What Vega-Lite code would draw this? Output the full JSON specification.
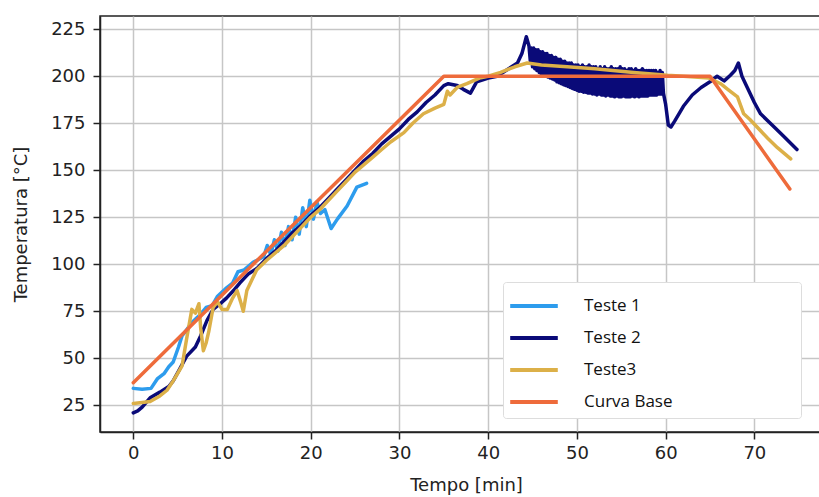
{
  "$schema": "https://vega.github.io/schema/vega-lite/v6.json",
  "width": 732,
  "height": 416,
  "autosize": {"type": "none"},
  "padding": {"left": 100, "top": 16, "right": 0, "bottom": 65},
  "background": "white",
  "config": {
    "view": {"stroke": "#222222", "strokeWidth": 1.5},
    "font": "DejaVu Sans",
    "axis": {
      "grid": true,
      "gridColor": "#c6c6c6",
      "gridWidth": 1.5,
      "domainColor": "#222222",
      "domainWidth": 1.5,
      "tickColor": "#222222",
      "tickWidth": 1.5,
      "tickSize": 7,
      "labelFont": "DejaVu Sans",
      "labelFontSize": 18,
      "labelColor": "#222222",
      "titleFont": "DejaVu Sans",
      "titleFontSize": 18,
      "titleFontWeight": "normal",
      "titleColor": "#222222"
    }
  },
  "data": {
    "values": [
      {"serie": "Teste 1", "t": 0, "T": 34},
      {"serie": "Teste 1", "t": 1, "T": 33.5},
      {"serie": "Teste 1", "t": 2, "T": 34},
      {"serie": "Teste 1", "t": 2.7, "T": 39},
      {"serie": "Teste 1", "t": 3.5, "T": 42},
      {"serie": "Teste 1", "t": 4, "T": 45.5},
      {"serie": "Teste 1", "t": 4.5, "T": 48},
      {"serie": "Teste 1", "t": 5.1, "T": 56},
      {"serie": "Teste 1", "t": 5.5, "T": 62},
      {"serie": "Teste 1", "t": 6, "T": 65},
      {"serie": "Teste 1", "t": 6.6, "T": 69},
      {"serie": "Teste 1", "t": 7.5, "T": 73},
      {"serie": "Teste 1", "t": 8.2, "T": 77},
      {"serie": "Teste 1", "t": 8.9, "T": 78},
      {"serie": "Teste 1", "t": 9.5, "T": 83},
      {"serie": "Teste 1", "t": 10.4, "T": 87},
      {"serie": "Teste 1", "t": 11.2, "T": 90},
      {"serie": "Teste 1", "t": 11.8, "T": 96},
      {"serie": "Teste 1", "t": 12.5, "T": 97},
      {"serie": "Teste 1", "t": 13.5, "T": 101},
      {"serie": "Teste 1", "t": 14.7, "T": 104},
      {"serie": "Teste 1", "t": 15.1, "T": 110},
      {"serie": "Teste 1", "t": 15.5, "T": 105},
      {"serie": "Teste 1", "t": 15.9, "T": 113},
      {"serie": "Teste 1", "t": 16.3, "T": 107},
      {"serie": "Teste 1", "t": 16.7, "T": 117},
      {"serie": "Teste 1", "t": 17.1, "T": 110},
      {"serie": "Teste 1", "t": 17.5, "T": 120},
      {"serie": "Teste 1", "t": 17.9, "T": 113},
      {"serie": "Teste 1", "t": 18.3, "T": 125},
      {"serie": "Teste 1", "t": 18.7, "T": 116},
      {"serie": "Teste 1", "t": 19.1, "T": 130},
      {"serie": "Teste 1", "t": 19.5, "T": 120},
      {"serie": "Teste 1", "t": 19.9, "T": 134},
      {"serie": "Teste 1", "t": 20.3, "T": 124},
      {"serie": "Teste 1", "t": 20.7, "T": 133},
      {"serie": "Teste 1", "t": 21.1, "T": 127},
      {"serie": "Teste 1", "t": 21.6, "T": 129},
      {"serie": "Teste 1", "t": 22.3, "T": 119},
      {"serie": "Teste 1", "t": 23, "T": 124},
      {"serie": "Teste 1", "t": 24.1, "T": 131},
      {"serie": "Teste 1", "t": 25.2, "T": 141},
      {"serie": "Teste 1", "t": 26.3, "T": 143},

      {"serie": "Teste 2", "t": 0, "T": 21},
      {"serie": "Teste 2", "t": 0.5, "T": 22},
      {"serie": "Teste 2", "t": 1, "T": 24},
      {"serie": "Teste 2", "t": 1.9, "T": 29},
      {"serie": "Teste 2", "t": 3, "T": 32},
      {"serie": "Teste 2", "t": 4, "T": 35},
      {"serie": "Teste 2", "t": 4.5, "T": 38},
      {"serie": "Teste 2", "t": 5.2, "T": 44},
      {"serie": "Teste 2", "t": 6, "T": 51},
      {"serie": "Teste 2", "t": 7, "T": 56},
      {"serie": "Teste 2", "t": 7.6, "T": 62},
      {"serie": "Teste 2", "t": 8.3, "T": 70},
      {"serie": "Teste 2", "t": 9, "T": 76},
      {"serie": "Teste 2", "t": 9.8, "T": 79},
      {"serie": "Teste 2", "t": 10.5, "T": 82},
      {"serie": "Teste 2", "t": 11.3, "T": 86},
      {"serie": "Teste 2", "t": 12, "T": 90},
      {"serie": "Teste 2", "t": 13, "T": 95},
      {"serie": "Teste 2", "t": 14, "T": 98},
      {"serie": "Teste 2", "t": 15, "T": 103},
      {"serie": "Teste 2", "t": 16, "T": 107},
      {"serie": "Teste 2", "t": 17, "T": 112},
      {"serie": "Teste 2", "t": 18, "T": 117},
      {"serie": "Teste 2", "t": 19, "T": 121},
      {"serie": "Teste 2", "t": 20, "T": 126},
      {"serie": "Teste 2", "t": 21, "T": 130},
      {"serie": "Teste 2", "t": 22, "T": 135},
      {"serie": "Teste 2", "t": 23, "T": 140},
      {"serie": "Teste 2", "t": 24, "T": 145},
      {"serie": "Teste 2", "t": 25, "T": 150},
      {"serie": "Teste 2", "t": 26, "T": 155},
      {"serie": "Teste 2", "t": 27, "T": 159},
      {"serie": "Teste 2", "t": 28, "T": 164},
      {"serie": "Teste 2", "t": 29, "T": 168},
      {"serie": "Teste 2", "t": 30, "T": 172},
      {"serie": "Teste 2", "t": 31, "T": 177},
      {"serie": "Teste 2", "t": 32, "T": 181},
      {"serie": "Teste 2", "t": 33, "T": 186},
      {"serie": "Teste 2", "t": 34, "T": 190},
      {"serie": "Teste 2", "t": 35, "T": 195},
      {"serie": "Teste 2", "t": 35.5, "T": 196},
      {"serie": "Teste 2", "t": 36.5, "T": 195},
      {"serie": "Teste 2", "t": 37.2, "T": 193},
      {"serie": "Teste 2", "t": 38, "T": 191},
      {"serie": "Teste 2", "t": 38.7, "T": 197},
      {"serie": "Teste 2", "t": 40, "T": 199},
      {"serie": "Teste 2", "t": 41, "T": 200},
      {"serie": "Teste 2", "t": 42, "T": 203},
      {"serie": "Teste 2", "t": 43.3, "T": 207},
      {"serie": "Teste 2", "t": 43.8, "T": 212},
      {"serie": "Teste 2", "t": 44.3, "T": 221},
      {"serie": "Teste 2", "t": 44.6, "T": 216},
      {"serie": "Teste 2", "t": 44.75, "T": 208},
      {"serie": "Teste 2", "t": 44.875, "T": 215},
      {"serie": "Teste 2", "t": 45.0, "T": 205},
      {"serie": "Teste 2", "t": 45.125, "T": 215},
      {"serie": "Teste 2", "t": 45.25, "T": 204},
      {"serie": "Teste 2", "t": 45.375, "T": 214},
      {"serie": "Teste 2", "t": 45.5, "T": 203},
      {"serie": "Teste 2", "t": 45.625, "T": 214},
      {"serie": "Teste 2", "t": 45.75, "T": 202},
      {"serie": "Teste 2", "t": 45.875, "T": 213},
      {"serie": "Teste 2", "t": 46.0, "T": 201},
      {"serie": "Teste 2", "t": 46.125, "T": 213},
      {"serie": "Teste 2", "t": 46.25, "T": 200.5},
      {"serie": "Teste 2", "t": 46.375, "T": 212},
      {"serie": "Teste 2", "t": 46.5, "T": 200},
      {"serie": "Teste 2", "t": 46.625, "T": 212},
      {"serie": "Teste 2", "t": 46.75, "T": 199.5},
      {"serie": "Teste 2", "t": 46.875, "T": 211},
      {"serie": "Teste 2", "t": 47.0, "T": 199},
      {"serie": "Teste 2", "t": 47.125, "T": 211},
      {"serie": "Teste 2", "t": 47.25, "T": 198.5},
      {"serie": "Teste 2", "t": 47.375, "T": 210},
      {"serie": "Teste 2", "t": 47.5, "T": 198},
      {"serie": "Teste 2", "t": 47.625, "T": 210},
      {"serie": "Teste 2", "t": 47.75, "T": 197},
      {"serie": "Teste 2", "t": 47.875, "T": 209},
      {"serie": "Teste 2", "t": 48.0, "T": 196.5},
      {"serie": "Teste 2", "t": 48.125, "T": 209},
      {"serie": "Teste 2", "t": 48.25, "T": 196},
      {"serie": "Teste 2", "t": 48.375, "T": 208},
      {"serie": "Teste 2", "t": 48.5, "T": 195.5},
      {"serie": "Teste 2", "t": 48.625, "T": 208},
      {"serie": "Teste 2", "t": 48.75, "T": 195},
      {"serie": "Teste 2", "t": 48.875, "T": 207},
      {"serie": "Teste 2", "t": 49.0, "T": 194.5},
      {"serie": "Teste 2", "t": 49.125, "T": 207},
      {"serie": "Teste 2", "t": 49.25, "T": 194},
      {"serie": "Teste 2", "t": 49.375, "T": 207},
      {"serie": "Teste 2", "t": 49.5, "T": 193.5},
      {"serie": "Teste 2", "t": 49.625, "T": 206},
      {"serie": "Teste 2", "t": 49.75, "T": 193},
      {"serie": "Teste 2", "t": 49.875, "T": 206},
      {"serie": "Teste 2", "t": 50.0, "T": 192.5},
      {"serie": "Teste 2", "t": 50.125, "T": 206},
      {"serie": "Teste 2", "t": 50.25, "T": 192},
      {"serie": "Teste 2", "t": 50.375, "T": 205},
      {"serie": "Teste 2", "t": 50.5, "T": 192},
      {"serie": "Teste 2", "t": 50.625, "T": 206},
      {"serie": "Teste 2", "t": 50.75, "T": 191.5},
      {"serie": "Teste 2", "t": 50.875, "T": 205},
      {"serie": "Teste 2", "t": 51.0, "T": 191.5},
      {"serie": "Teste 2", "t": 51.125, "T": 205},
      {"serie": "Teste 2", "t": 51.25, "T": 191},
      {"serie": "Teste 2", "t": 51.375, "T": 206},
      {"serie": "Teste 2", "t": 51.5, "T": 191},
      {"serie": "Teste 2", "t": 51.625, "T": 205},
      {"serie": "Teste 2", "t": 51.75, "T": 190.5},
      {"serie": "Teste 2", "t": 51.875, "T": 205},
      {"serie": "Teste 2", "t": 52.0, "T": 190.5},
      {"serie": "Teste 2", "t": 52.125, "T": 205},
      {"serie": "Teste 2", "t": 52.25, "T": 190},
      {"serie": "Teste 2", "t": 52.375, "T": 204},
      {"serie": "Teste 2", "t": 52.5, "T": 190.5},
      {"serie": "Teste 2", "t": 52.625, "T": 205},
      {"serie": "Teste 2", "t": 52.75, "T": 190},
      {"serie": "Teste 2", "t": 52.875, "T": 204},
      {"serie": "Teste 2", "t": 53.0, "T": 190},
      {"serie": "Teste 2", "t": 53.125, "T": 205},
      {"serie": "Teste 2", "t": 53.25, "T": 189.5},
      {"serie": "Teste 2", "t": 53.375, "T": 204},
      {"serie": "Teste 2", "t": 53.5, "T": 190},
      {"serie": "Teste 2", "t": 53.625, "T": 204},
      {"serie": "Teste 2", "t": 53.75, "T": 189.5},
      {"serie": "Teste 2", "t": 53.875, "T": 205},
      {"serie": "Teste 2", "t": 54.0, "T": 189.5},
      {"serie": "Teste 2", "t": 54.125, "T": 204},
      {"serie": "Teste 2", "t": 54.25, "T": 189},
      {"serie": "Teste 2", "t": 54.375, "T": 204},
      {"serie": "Teste 2", "t": 54.5, "T": 189.5},
      {"serie": "Teste 2", "t": 54.625, "T": 204},
      {"serie": "Teste 2", "t": 54.75, "T": 189},
      {"serie": "Teste 2", "t": 54.875, "T": 205},
      {"serie": "Teste 2", "t": 55.0, "T": 189},
      {"serie": "Teste 2", "t": 55.125, "T": 204},
      {"serie": "Teste 2", "t": 55.25, "T": 189.5},
      {"serie": "Teste 2", "t": 55.375, "T": 204},
      {"serie": "Teste 2", "t": 55.5, "T": 189},
      {"serie": "Teste 2", "t": 55.625, "T": 203},
      {"serie": "Teste 2", "t": 55.75, "T": 189},
      {"serie": "Teste 2", "t": 55.875, "T": 204},
      {"serie": "Teste 2", "t": 56.0, "T": 189},
      {"serie": "Teste 2", "t": 56.125, "T": 204},
      {"serie": "Teste 2", "t": 56.25, "T": 189.5},
      {"serie": "Teste 2", "t": 56.375, "T": 203},
      {"serie": "Teste 2", "t": 56.5, "T": 189},
      {"serie": "Teste 2", "t": 56.625, "T": 204},
      {"serie": "Teste 2", "t": 56.75, "T": 189.5},
      {"serie": "Teste 2", "t": 56.875, "T": 203},
      {"serie": "Teste 2", "t": 57.0, "T": 189},
      {"serie": "Teste 2", "t": 57.125, "T": 203},
      {"serie": "Teste 2", "t": 57.25, "T": 189.5},
      {"serie": "Teste 2", "t": 57.375, "T": 204},
      {"serie": "Teste 2", "t": 57.5, "T": 189.5},
      {"serie": "Teste 2", "t": 57.625, "T": 203},
      {"serie": "Teste 2", "t": 57.75, "T": 189.5},
      {"serie": "Teste 2", "t": 57.875, "T": 203},
      {"serie": "Teste 2", "t": 58.0, "T": 189.5},
      {"serie": "Teste 2", "t": 58.125, "T": 203},
      {"serie": "Teste 2", "t": 58.25, "T": 190},
      {"serie": "Teste 2", "t": 58.375, "T": 203},
      {"serie": "Teste 2", "t": 58.5, "T": 190},
      {"serie": "Teste 2", "t": 58.625, "T": 203},
      {"serie": "Teste 2", "t": 58.75, "T": 190},
      {"serie": "Teste 2", "t": 58.875, "T": 203},
      {"serie": "Teste 2", "t": 59.0, "T": 190},
      {"serie": "Teste 2", "t": 59.125, "T": 202},
      {"serie": "Teste 2", "t": 59.25, "T": 190.5},
      {"serie": "Teste 2", "t": 59.375, "T": 203},
      {"serie": "Teste 2", "t": 59.5, "T": 190.5},
      {"serie": "Teste 2", "t": 59.625, "T": 202},
      {"serie": "Teste 2", "t": 59.75, "T": 191},
      {"serie": "Teste 2", "t": 60.0, "T": 185},
      {"serie": "Teste 2", "t": 60.3, "T": 174},
      {"serie": "Teste 2", "t": 60.6, "T": 173},
      {"serie": "Teste 2", "t": 61, "T": 176},
      {"serie": "Teste 2", "t": 62, "T": 184},
      {"serie": "Teste 2", "t": 63, "T": 190},
      {"serie": "Teste 2", "t": 64, "T": 194},
      {"serie": "Teste 2", "t": 65, "T": 197},
      {"serie": "Teste 2", "t": 65.8, "T": 200},
      {"serie": "Teste 2", "t": 66.6, "T": 197.5},
      {"serie": "Teste 2", "t": 67.3, "T": 200.5},
      {"serie": "Teste 2", "t": 67.8, "T": 203},
      {"serie": "Teste 2", "t": 68.2, "T": 207},
      {"serie": "Teste 2", "t": 68.6, "T": 200},
      {"serie": "Teste 2", "t": 69.2, "T": 194},
      {"serie": "Teste 2", "t": 70, "T": 186},
      {"serie": "Teste 2", "t": 70.7, "T": 180},
      {"serie": "Teste 2", "t": 72, "T": 174},
      {"serie": "Teste 2", "t": 73.3, "T": 168},
      {"serie": "Teste 2", "t": 74.8, "T": 161},

      {"serie": "Teste3", "t": 0, "T": 26},
      {"serie": "Teste3", "t": 1, "T": 26.5},
      {"serie": "Teste3", "t": 1.9, "T": 27},
      {"serie": "Teste3", "t": 3, "T": 30},
      {"serie": "Teste3", "t": 3.8, "T": 33},
      {"serie": "Teste3", "t": 4.5, "T": 38},
      {"serie": "Teste3", "t": 5.5, "T": 46},
      {"serie": "Teste3", "t": 6, "T": 60},
      {"serie": "Teste3", "t": 6.6, "T": 76},
      {"serie": "Teste3", "t": 7, "T": 74},
      {"serie": "Teste3", "t": 7.4, "T": 79},
      {"serie": "Teste3", "t": 7.6, "T": 66},
      {"serie": "Teste3", "t": 7.9, "T": 54},
      {"serie": "Teste3", "t": 8.2, "T": 58},
      {"serie": "Teste3", "t": 8.5, "T": 64},
      {"serie": "Teste3", "t": 9, "T": 77},
      {"serie": "Teste3", "t": 9.5, "T": 80},
      {"serie": "Teste3", "t": 10, "T": 76},
      {"serie": "Teste3", "t": 10.6, "T": 76},
      {"serie": "Teste3", "t": 11.2, "T": 82},
      {"serie": "Teste3", "t": 11.7, "T": 86},
      {"serie": "Teste3", "t": 12.1, "T": 80},
      {"serie": "Teste3", "t": 12.4, "T": 75},
      {"serie": "Teste3", "t": 12.8, "T": 86},
      {"serie": "Teste3", "t": 13.4, "T": 92},
      {"serie": "Teste3", "t": 13.9, "T": 97},
      {"serie": "Teste3", "t": 15, "T": 102},
      {"serie": "Teste3", "t": 16, "T": 106},
      {"serie": "Teste3", "t": 17, "T": 110},
      {"serie": "Teste3", "t": 18, "T": 115},
      {"serie": "Teste3", "t": 19, "T": 120},
      {"serie": "Teste3", "t": 20, "T": 125},
      {"serie": "Teste3", "t": 21, "T": 129},
      {"serie": "Teste3", "t": 22, "T": 134},
      {"serie": "Teste3", "t": 23, "T": 139},
      {"serie": "Teste3", "t": 24, "T": 144},
      {"serie": "Teste3", "t": 25, "T": 149},
      {"serie": "Teste3", "t": 26, "T": 153},
      {"serie": "Teste3", "t": 27, "T": 157},
      {"serie": "Teste3", "t": 28, "T": 161},
      {"serie": "Teste3", "t": 29, "T": 165},
      {"serie": "Teste3", "t": 30.5, "T": 170},
      {"serie": "Teste3", "t": 31.5, "T": 175},
      {"serie": "Teste3", "t": 32.7, "T": 180},
      {"serie": "Teste3", "t": 34, "T": 183},
      {"serie": "Teste3", "t": 35, "T": 185},
      {"serie": "Teste3", "t": 35.4, "T": 192},
      {"serie": "Teste3", "t": 35.7, "T": 190},
      {"serie": "Teste3", "t": 36.5, "T": 194},
      {"serie": "Teste3", "t": 37.6, "T": 196},
      {"serie": "Teste3", "t": 39, "T": 199},
      {"serie": "Teste3", "t": 40, "T": 200},
      {"serie": "Teste3", "t": 41.4, "T": 202},
      {"serie": "Teste3", "t": 43, "T": 205},
      {"serie": "Teste3", "t": 44.4, "T": 207},
      {"serie": "Teste3", "t": 46, "T": 206},
      {"serie": "Teste3", "t": 48.9, "T": 205},
      {"serie": "Teste3", "t": 52, "T": 204},
      {"serie": "Teste3", "t": 56.4, "T": 202},
      {"serie": "Teste3", "t": 60.2, "T": 200.5},
      {"serie": "Teste3", "t": 62, "T": 200},
      {"serie": "Teste3", "t": 64.9, "T": 199},
      {"serie": "Teste3", "t": 66.2, "T": 196},
      {"serie": "Teste3", "t": 67, "T": 193},
      {"serie": "Teste3", "t": 68.1, "T": 189},
      {"serie": "Teste3", "t": 68.8, "T": 180},
      {"serie": "Teste3", "t": 69.5, "T": 177},
      {"serie": "Teste3", "t": 70.3, "T": 173},
      {"serie": "Teste3", "t": 71.5, "T": 167},
      {"serie": "Teste3", "t": 72.6, "T": 162},
      {"serie": "Teste3", "t": 74.1, "T": 156},

      {"serie": "Curva Base", "t": 0, "T": 37},
      {"serie": "Curva Base", "t": 35, "T": 200},
      {"serie": "Curva Base", "t": 65, "T": 200},
      {"serie": "Curva Base", "t": 74, "T": 140}
    ]
  },
  "mark": {"type": "line", "strokeWidth": 3.5, "strokeJoin": "round", "strokeCap": "round"},
  "encoding": {
    "x": {
      "field": "t",
      "type": "quantitative",
      "scale": {"domain": [-3.75, 78.75], "nice": false, "zero": false},
      "axis": {
        "values": [0, 10, 20, 30, 40, 50, 60, 70],
        "title": "Tempo [min]",
        "labelPadding": 5,
        "titlePadding": 14
      }
    },
    "y": {
      "field": "T",
      "type": "quantitative",
      "scale": {"domain": [10.8, 232], "nice": false, "zero": false},
      "axis": {
        "values": [25, 50, 75, 100, 125, 150, 175, 200, 225],
        "title": "Temperatura [°C]",
        "labelPadding": 8,
        "titlePadding": 20
      }
    },
    "color": {
      "field": "serie",
      "type": "nominal",
      "sort": ["Teste 1", "Teste 2", "Teste3", "Curva Base"],
      "scale": {
        "domain": ["Teste 1", "Teste 2", "Teste3", "Curva Base"],
        "range": ["#2D9CED", "#0A0A78", "#DCB048", "#EE6B3B"]
      },
      "legend": {
        "title": null,
        "orient": "none",
        "legendX": 403,
        "legendY": 266,
        "padding": 8,
        "fillColor": "white",
        "strokeColor": "#dddddd",
        "cornerRadius": 3,
        "symbolType": "M-1.7,0H1.7",
        "symbolStrokeWidth": 4,
        "symbolSize": 784,
        "symbolOffset": 7,
        "labelFont": "Open Sans",
        "labelFontSize": 17,
        "labelColor": "#111111",
        "labelOffset": 34,
        "labelLimit": 400,
        "rowPadding": 8,
        "labelExpr": "datum.label + '\u2800\u2800\u2800\u2800\u2800\u2800\u2800\u2800\u2800\u2800'"
      }
    }
  }
}
